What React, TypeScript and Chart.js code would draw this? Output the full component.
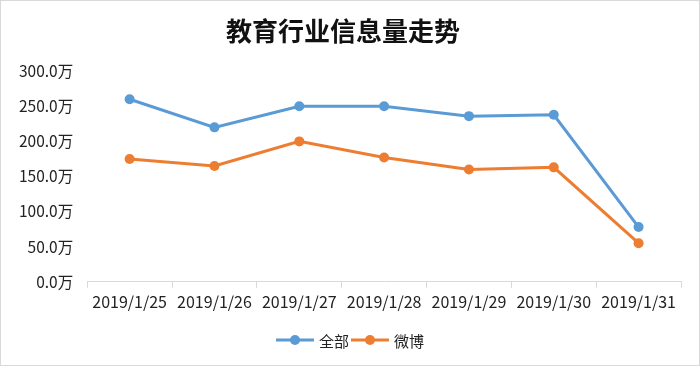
import React, { useEffect, useRef } from "react";
import { Chart, registerables } from "chart.js";

Chart.register(...registerables);

const categories = ["2019/1/25", "2019/1/26", "2019/1/27", "2019/1/28", "2019/1/29", "2019/1/30", "2019/1/31"];
const allValues = [260, 220, 250, 250, 236, 238, 78];
const weiboValues = [175, 165, 200, 177, 160, 163, 55];
const seriesNames = ["全部", "微博"];
const seriesColors = ["#5B9BD5", "#ED7D31"];
const titleText = "教育行业信息量走势";

const FONT = "'Noto Sans CJK SC', 'Noto Sans', sans-serif";

const lineLegend = {
  id: "lineLegend",
  afterDraw(chart: any) {
    const ctx = chart.ctx;
    const ds = chart.data.datasets;
    const y = 339;
    ctx.save();
    ctx.font = `15px ${FONT}`;
    const lineW = 38;
    const gap = 5;
    const itemGap = 2;
    const widths = ds.map((d: any) => lineW + gap + ctx.measureText(d.label).width);
    const total = widths.reduce((a: number, b: number) => a + b, 0) + itemGap * (ds.length - 1);
    let x = chart.width / 2 - total / 2;
    ds.forEach((d: any, i: number) => {
      ctx.strokeStyle = d.borderColor;
      ctx.lineWidth = 3;
      ctx.beginPath();
      ctx.moveTo(x, y);
      ctx.lineTo(x + lineW, y);
      ctx.stroke();
      ctx.fillStyle = d.borderColor;
      ctx.beginPath();
      ctx.arc(x + lineW / 2, y, 5, 0, Math.PI * 2);
      ctx.fill();
      ctx.fillStyle = "#222";
      ctx.textBaseline = "middle";
      ctx.textAlign = "left";
      ctx.fillText(d.label, x + lineW + gap, y + 1);
      x += widths[i] + itemGap;
    });
    ctx.restore();
  },
};

export default function App() {
  const ref = useRef<HTMLCanvasElement>(null);
  useEffect(() => {
    document.body.style.margin = "0";
    const chart = new Chart(ref.current!, {
      type: "line",
      data: {
        labels: categories,
        datasets: [
          {
            label: seriesNames[0],
            data: allValues,
            borderColor: seriesColors[0],
            backgroundColor: seriesColors[0],
            borderWidth: 3,
            pointRadius: 5,
            pointBackgroundColor: seriesColors[0],
            pointBorderWidth: 0,
          },
          {
            label: seriesNames[1],
            data: weiboValues,
            borderColor: seriesColors[1],
            backgroundColor: seriesColors[1],
            borderWidth: 3,
            pointRadius: 5,
            pointBackgroundColor: seriesColors[1],
            pointBorderWidth: 0,
          },
        ],
      },
      options: {
        animation: false,
        responsive: false,
        maintainAspectRatio: false,
        layout: { padding: { left: 4, right: 18, top: 0, bottom: 48 } },
        plugins: {
          legend: { display: false },
          tooltip: { enabled: false },
          title: {
            display: true,
            text: titleText,
            color: "#111",
            font: { family: FONT, size: 26, weight: "bold" },
            padding: { top: 15, bottom: 24 },
          },
        },
        scales: {
          x: {
            offset: true,
            grid: {
              display: true,
              offset: true,
              drawOnChartArea: false,
              drawTicks: true,
              tickLength: 6,
              color: "#d9d9d9",
            },
            border: { display: true, color: "#d9d9d9", width: 1 },
            ticks: {
              color: "#222",
              font: { family: FONT, size: 16 },
              padding: 5,
              maxRotation: 0,
              autoSkip: false,
            },
          },
          y: {
            min: 0,
            max: 300,
            grid: { display: false, drawTicks: false },
            border: { display: false },
            ticks: {
              stepSize: 50,
              color: "#222",
              font: { family: FONT, size: 15.5 },
              padding: 14,
              callback: (v: any) => `${Number(v).toFixed(1)}万`,
            },
          },
        },
      },
      plugins: [lineLegend],
    });
    return () => chart.destroy();
  }, []);
  return (
    <div style={{ width: 700, height: 366, boxSizing: "border-box", border: "1px solid #d9d9d9", background: "#fff", overflow: "hidden" }}>
      <canvas ref={ref} width={698} height={364} style={{ display: "block" }} />
    </div>
  );
}
